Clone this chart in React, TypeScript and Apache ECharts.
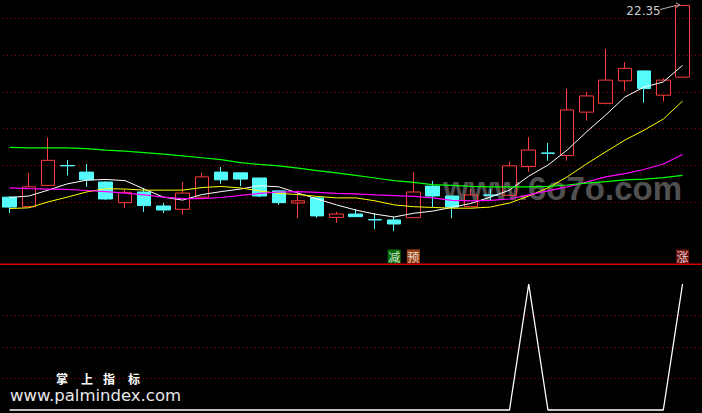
import React, { useEffect, useRef } from 'react';
import * as echarts from 'echarts';

// ---- data ----
const categories = [
  'D01','D02','D03','D04','D05','D06','D07','D08','D09','D10','D11','D12',
  'D13','D14','D15','D16','D17','D18','D19','D20','D21','D22','D23','D24',
  'D25','D26','D27','D28','D29','D30','D31','D32','D33','D34','D35','D36',
];
const opens = [17.14,16.88,17.46,18.00,17.82,17.55,16.99,17.28,16.90,16.81,17.14,17.82,17.80,17.66,17.31,16.98,17.12,16.59,16.68,16.53,16.52,16.58,17.44,17.17,16.88,17.20,17.19,17.97,18.34,18.27,19.45,19.69,20.30,20.57,19.91,20.40];
const closes = [16.87,17.42,18.14,17.99,17.61,17.09,17.27,16.91,16.79,17.25,17.69,17.61,17.63,17.17,16.99,17.04,16.63,16.68,16.61,16.52,16.41,17.28,17.17,16.87,17.20,17.19,17.99,18.42,18.33,19.51,19.89,20.32,20.64,20.09,20.32,22.35];
const lows = [16.71,16.87,17.46,17.73,17.42,17.06,16.85,16.74,16.71,16.66,17.14,17.50,17.44,17.14,16.93,16.57,16.58,16.44,16.61,16.27,16.22,16.58,16.87,16.57,16.88,17.04,17.19,17.83,18.13,18.13,19.22,19.66,20.03,19.71,19.74,20.40];
const highs = [17.17,17.80,18.76,18.15,18.04,17.58,17.35,17.39,16.98,17.55,17.80,17.96,17.80,17.66,17.32,17.33,17.12,16.74,16.82,16.71,16.60,17.82,17.58,17.17,17.36,17.36,18.10,18.77,18.61,20.08,20.00,21.17,20.81,20.57,20.37,22.35];

const ma5 = [17.13,17.17,17.33,17.50,17.60,17.62,17.59,17.36,17.14,17.06,17.21,17.29,17.36,17.45,17.42,17.25,17.09,16.93,16.79,16.68,16.60,16.70,16.76,16.86,16.97,17.14,17.33,17.71,18.01,18.42,18.91,19.37,19.86,20.13,20.27,20.72];
const ma10 = [16.83,16.85,17.01,17.14,17.28,17.37,17.36,17.33,17.33,17.33,17.40,17.43,17.39,17.31,17.24,17.21,17.16,17.12,17.12,17.04,16.93,16.88,16.86,16.84,16.84,16.87,16.98,17.17,17.39,17.69,18.04,18.37,18.69,18.96,19.26,19.75];
const ma20 = [17.39,17.37,17.36,17.35,17.32,17.29,17.25,17.20,17.14,17.10,17.10,17.13,17.19,17.24,17.28,17.29,17.27,17.24,17.23,17.20,17.18,17.16,17.12,17.05,17.04,17.05,17.09,17.20,17.31,17.42,17.55,17.69,17.78,17.89,18.04,18.30];
const ma60 = [18.49,18.48,18.48,18.48,18.46,18.42,18.39,18.35,18.31,18.26,18.21,18.16,18.08,18.03,17.99,17.93,17.86,17.80,17.73,17.66,17.59,17.54,17.48,17.46,17.43,17.42,17.42,17.42,17.43,17.47,17.52,17.56,17.61,17.63,17.67,17.73];

const signal = [0,0,0,0,0,0,0,0,0,0,0,0,0,0,0,0,0,0,0,0,0,0,0,0,0,0,0,100,0,0,0,0,0,0,0,100];

const markerIndex = [20, 21, 35];
const markerTexts = ['减', '预', '涨'];
const markerLevel = 15.53;

const priceTicks = [17, 18, 19, 20, 21, 22];
const indicatorTicks = [25, 50, 75];

const brandChars = ['掌', '上', '指', '标'];
const brandUrl = 'www.palmindex.com';
const watermark = 'www.6o7o.com';

// ---- styles ----
const markerColors = ['#0a8a0a', '#c2531a', '#8e1414'];
const brandX = [62, 87, 109, 134];
const gridDots = { color: '#9a0000', type: [1, 3] as number[], width: 1 };

export default function App() {
  const ref = useRef<HTMLDivElement>(null);

  useEffect(() => {
    if (!ref.current) return;
    const chart = echarts.init(ref.current, null, { renderer: 'svg' });
    const candleData = categories.map((_, i) => [opens[i], closes[i], lows[i], highs[i]]);
    const markerData = markerIndex.map((idx, k) => ({
      name: markerTexts[k],
      value: [idx, markerLevel],
      itemStyle: { color: markerColors[k] },
    }));

    const hiddenY = { axisLine: { show: false }, axisTick: { show: false }, axisLabel: { show: false } };

    const option: any = {
      animation: false,
      backgroundColor: '#000',
      grid: [
        { left: -2.65, width: 694.8, top: 0, height: 264 },
        { left: -2.65, width: 694.8, top: 264, height: 149 },
        { left: 3, right: 0, top: 18.3, height: 184 },
        { left: 3, right: 0, top: 315.5, height: 63 },
      ],
      xAxis: [
        { type: 'category', data: categories, gridIndex: 0, show: false, boundaryGap: true },
        { type: 'category', data: categories, gridIndex: 1, show: false, boundaryGap: true },
        { type: 'value', gridIndex: 2, min: 0, max: 1, show: false },
        { type: 'value', gridIndex: 3, min: 0, max: 1, show: false },
      ],
      yAxis: [
        { type: 'value', gridIndex: 0, min: 15.323, max: 22.497, show: false },
        { type: 'value', gridIndex: 1, min: -2.38, max: 115.87, show: false },
        {
          type: 'value', gridIndex: 2, min: priceTicks[0], max: priceTicks[priceTicks.length - 1], interval: 1,
          ...hiddenY, splitLine: { show: true, lineStyle: gridDots },
        },
        {
          type: 'value', gridIndex: 3, min: indicatorTicks[0], max: indicatorTicks[indicatorTicks.length - 1], interval: 25,
          ...hiddenY, splitLine: { show: true, lineStyle: gridDots },
        },
      ],
      graphic: [
        {
          type: 'text', left: 443, top: 172, z: 0, silent: true,
          style: { text: watermark, fill: '#505050', font: 'bold 33px "Liberation Sans", Arial, sans-serif' },
        },
        {
          type: 'rect', z: 10, shape: { x: 0, y: 263.5, width: 702, height: 1.6 },
          style: { fill: '#d40000' },
        },
        {
          type: 'polyline', z: 10, shape: { points: [[660, 9.5], [676, 5.5]] },
          style: { stroke: '#b4b4b4', lineWidth: 1, fill: null },
        },
        {
          type: 'polyline', z: 10, shape: { points: [[676, 3], [680, 5], [676, 7.5]] },
          style: { stroke: '#b4b4b4', lineWidth: 1, fill: null },
        },
        ...brandChars.map((ch, k) => ({
          type: 'text', z: 10, x: brandX[k], y: 378.5,
          style: {
            text: ch, fill: '#ffffff', align: 'center', verticalAlign: 'middle',
            font: 'bold 12px "Noto Sans CJK SC", sans-serif',
          },
        })),
        {
          type: 'text', z: 10, x: 10, y: 395.5,
          style: {
            text: brandUrl, fill: '#e8e8e8', verticalAlign: 'middle',
            font: '16.5px "DejaVu Sans", sans-serif',
          },
        },
      ],
      series: [
        {
          type: 'candlestick', xAxisIndex: 0, yAxisIndex: 0, data: candleData, barWidth: 14,
          itemStyle: {
            color: 'rgba(0,0,0,0)', color0: '#54fcfc',
            borderColor: '#ff3c3c', borderColor0: '#54fcfc', borderWidth: 1,
          },
          markPoint: {
            symbol: 'circle', symbolSize: 1, itemStyle: { color: 'rgba(0,0,0,0)' },
            label: {
              show: true, position: 'inside', offset: [-39, 6], color: '#c8c8c8',
              fontSize: 12, fontFamily: 'DejaVu Sans', formatter: '{c}',
            },
            data: [{ type: 'max', valueDim: 'highest' }],
          },
        },
        { type: 'line', xAxisIndex: 0, yAxisIndex: 0, data: ma5, symbol: 'none', lineStyle: { color: '#ffffff', width: 1 } },
        { type: 'line', xAxisIndex: 0, yAxisIndex: 0, data: ma10, symbol: 'none', lineStyle: { color: '#ffff00', width: 1 } },
        { type: 'line', xAxisIndex: 0, yAxisIndex: 0, data: ma20, symbol: 'none', lineStyle: { color: '#ff00ff', width: 1.2 } },
        { type: 'line', xAxisIndex: 0, yAxisIndex: 0, data: ma60, symbol: 'none', lineStyle: { color: '#00ff00', width: 1.2 } },
        {
          type: 'scatter', xAxisIndex: 0, yAxisIndex: 0, data: markerData, symbol: 'rect', symbolSize: [13, 14],
          label: {
            show: true, position: 'inside', formatter: '{b}', color: '#ffffff',
            fontSize: 12, fontFamily: '"Noto Sans CJK SC", sans-serif',
          },
        },
        {
          type: 'line', xAxisIndex: 1, yAxisIndex: 1, data: signal, symbol: 'none',
          lineStyle: { color: '#ffffff', width: 1.3 },
        },
      ],
    };
    chart.setOption(option);
    return () => chart.dispose();
  }, []);

  return (
    <div
      ref={ref}
      style={{ position: 'fixed', left: 0, top: 0, width: 702, height: 413, background: '#000' }}
    />
  );
}
